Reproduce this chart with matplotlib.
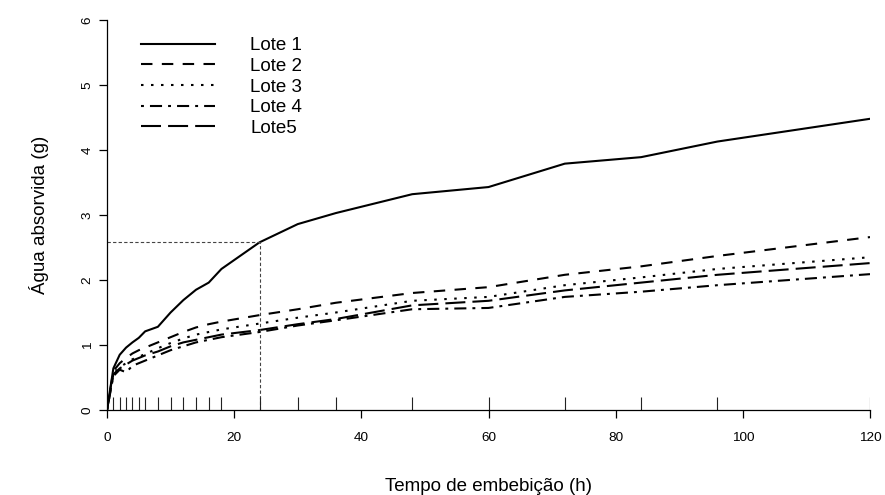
import matplotlib
matplotlib.use("Agg")
import matplotlib.pyplot as plt

plt.rcParams['font.family'] = ['Liberation Sans', 'DejaVu Sans']

tempo = [0, 1, 2, 3, 4, 5, 6, 8, 10, 12, 14, 16, 18, 24, 30, 36, 48, 60, 72, 84, 96, 120]
lote1 = [0, 0.64, 0.85, 0.96, 1.04, 1.11, 1.21, 1.28, 1.50, 1.69, 1.85, 1.96, 2.17, 2.58, 2.86, 3.03, 3.32, 3.43, 3.79, 3.89, 4.13, 4.48]
lote2 = [0, 0.60, 0.72, 0.80, 0.87, 0.92, 0.96, 1.04, 1.12, 1.20, 1.27, 1.32, 1.36, 1.46, 1.55, 1.65, 1.80, 1.89, 2.08, 2.21, 2.37, 2.66]
lote3 = [0, 0.55, 0.66, 0.72, 0.78, 0.82, 0.86, 0.95, 1.03, 1.10, 1.16, 1.20, 1.24, 1.33, 1.42, 1.50, 1.68, 1.74, 1.92, 2.04, 2.17, 2.35]
lote4 = [0, 0.52, 0.62, 0.58, 0.68, 0.72, 0.76, 0.84, 0.92, 0.98, 1.04, 1.08, 1.12, 1.20, 1.30, 1.38, 1.55, 1.57, 1.74, 1.82, 1.92, 2.09]
lote5 = [0, 0.55, 0.64, 0.70, 0.76, 0.80, 0.84, 0.90, 0.98, 1.04, 1.08, 1.12, 1.16, 1.23, 1.32, 1.40, 1.61, 1.68, 1.84, 1.96, 2.08, 2.26]
nomes = ['Lote 1', 'Lote 2', 'Lote 3', 'Lote 4', 'Lote5']
xticks = [0, 20, 40, 60, 80, 100, 120]
yticks = [0, 1, 2, 3, 4, 5, 6]

estilos = ['-', (0, (5.5, 4.5)), (0, (1.2, 3.6)), (0, (1.4, 2.9, 5.8, 2.9)), (0, (9.6, 3.4))]

W, H = 885, 495
fig = plt.figure(figsize=(W / 100, H / 100), dpi=100)
ax = fig.add_axes([107 / W, (H - 410) / H, (870 - 107) / W, (410 - 20) / H])

for serie, nome, ls in zip([lote1, lote2, lote3, lote4, lote5], nomes, estilos):
    ax.plot(tempo, serie, color='black', lw=1.5, linestyle=ls, label=nome,
            dash_capstyle='butt', solid_joinstyle='round')

# reference lines at 24 h
i24 = tempo.index(24)
ax.plot([0, tempo[i24]], [lote1[i24], lote1[i24]], color='#444444', lw=0.8, ls=(0, (3, 2)))
ax.plot([tempo[i24], tempo[i24]], [0, lote1[i24]], color='#444444', lw=0.8, ls=(0, (3, 2)))

# rug
ax.vlines(tempo, 0, 0.033, transform=ax.get_xaxis_transform(), color='#222222', lw=0.8)

ax.set_xlim(0, 120)
ax.set_ylim(0, 6)
ax.set_xticks(xticks)
ax.set_yticks(yticks)
for s in ['top', 'right']:
    ax.spines[s].set_visible(False)
for s in ['left', 'bottom']:
    ax.spines[s].set_linewidth(0.9)
ax.tick_params(axis='both', direction='out', length=6, width=0.9, labelsize=9.7)
ax.tick_params(axis='x', pad=9.5)
ax.tick_params(axis='y', pad=3.5)
for lab in ax.get_yticklabels():
    lab.set_rotation(90)
    lab.set_va('center')

ax.set_xlabel('Tempo de embebição (h)', fontsize=13.5, labelpad=25)
ax.set_ylabel('Água absorvida (g)', fontsize=13.5, labelpad=23.5)

leg = ax.legend(loc='upper left', bbox_to_anchor=(34 / 763, 1 - 17 / 390), frameon=False, fontsize=13.5,
                handlelength=3.96, handletextpad=1.87, labelspacing=0.19,
                borderaxespad=0, borderpad=0)

fig.savefig('out.png', dpi=100)
